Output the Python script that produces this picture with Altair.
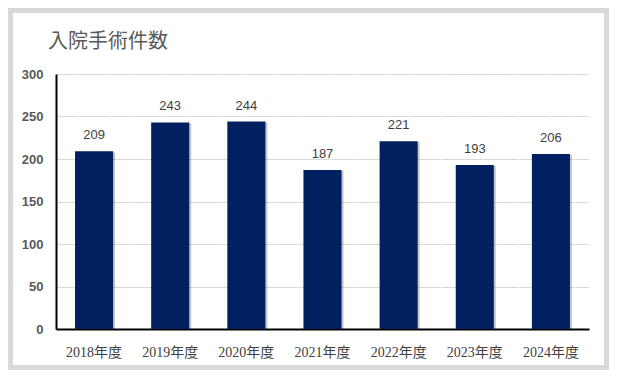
import altair as alt
import pandas as pd

years = ["2018年度", "2019年度", "2020年度", "2021年度", "2022年度", "2023年度", "2024年度"]
counts = [209, 243, 244, 187, 221, 193, 206]
y_ticks = [0, 50, 100, 150, 200, 250, 300]
title_text = "入院手術件数"

df = pd.DataFrame({"year": years, "count": counts})

W, H = 533, 255

xenc = alt.X("year:N", sort=years,
             scale=alt.Scale(paddingInner=0.5, paddingOuter=0.25),
             axis=alt.Axis(title=None, labelAngle=0, ticks=False, domainColor="#000000",
                           domainWidth=2, labelFont="Liberation Serif, Noto Sans CJK JP",
                           labelFontSize=14, labelColor="#404040", labelPadding=16,
                           grid=False))
yenc = alt.Y("count:Q", scale=alt.Scale(domain=[0, 300], nice=False),
             axis=alt.Axis(title=None, values=y_ticks, ticks=False, domainColor="#000000",
                           domainWidth=2, labelFont="Liberation Sans", labelFontSize=13,
                           labelFontWeight="bold", labelColor="#595959", labelPadding=13,
                           gridColor="#d9d9d9", gridWidth=1, gridDash=[22, 1, 31, 1]))

base = alt.Chart(df)

shadow = base.mark_bar(color="#000000", opacity=0.22, xOffset=2, yOffset=1).encode(
    x=xenc, y=yenc)
bars = base.mark_bar(color="#002060").encode(x=xenc, y=yenc)
labels = base.mark_text(baseline="alphabetic", dy=-12, font="Liberation Sans",
                        fontSize=13, color="#404040").encode(
    x=alt.X("year:N", sort=years), y="count:Q", text="count:Q")

frame_df = pd.DataFrame({"k": [0]})
frame = alt.Chart(frame_df).mark_rect(fill=None, stroke="#d9d9d9", strokeWidth=5).encode(
    x=alt.value(-45.5), x2=alt.value(550.5), y=alt.value(-63.5), y2=alt.value(293.5))
title = alt.Chart(frame_df).mark_text(text=title_text, align="left", baseline="alphabetic",
                                      font="Noto Sans CJK JP", fontSize=20,
                                      color="#595959").encode(
    x=alt.value(-8), y=alt.value(-26))

chart = alt.layer(shadow, bars, labels, frame, title).properties(
    width=W, height=H,
    autosize=alt.AutoSizeParams(type="none"),
    padding={"left": 48, "top": 66, "right": 21, "bottom": 41},
    background="#ffffff",
).configure_view(stroke=None)

chart.save("out.html", embed_options={"renderer": "svg", "actions": False})
